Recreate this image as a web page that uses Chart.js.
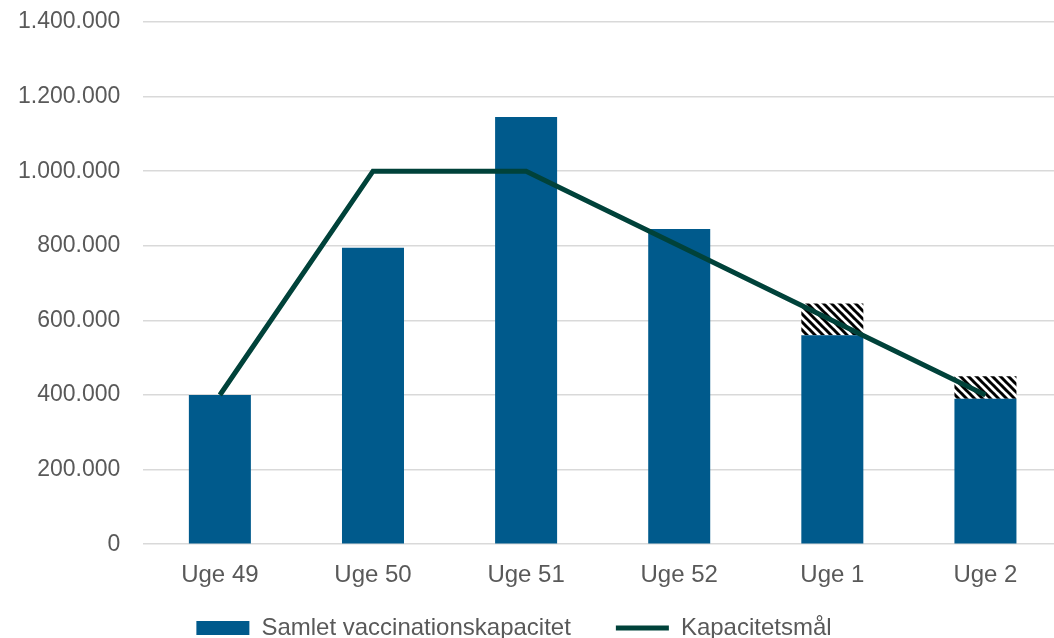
<!DOCTYPE html>
<html>
<head>
<meta charset="utf-8">
<script src="https://cdn.jsdelivr.net/npm/chart.js@4.4.0/dist/chart.umd.min.js"></script>
<style>
  html, body { margin: 0; padding: 0; background: #fff; overflow: hidden; }
  #outer { width: 1054px; height: 638px; overflow: hidden; position: relative; }
  #wrap { width: 1062px; height: 638px; position: absolute; left: 0; top: 0; }
</style>
</head>
<body>
<div id="outer"><div id="wrap"><canvas id="chart"></canvas></div></div>
<script>
const weeks = ['Uge 49', 'Uge 50', 'Uge 51', 'Uge 52', 'Uge 1', 'Uge 2'];
const capacity = [400000, 795000, 1145000, 845000, 560000, 390000];
const extraCapacity = [null, null, null, null, 85000, 60000];
const target = [400000, 1000000, 1000000, 800000, 600000, 400000];
const yTicks = [0, 200000, 400000, 600000, 800000, 1000000, 1200000, 1400000];

const BLUE = '#005a8c';
const GREEN = '#00423a';
const TEXT = '#595959';

// black/white diagonal hatch for the extra capacity
function hatch() {
  const c = document.createElement('canvas');
  c.width = 8; c.height = 8;
  const g = c.getContext('2d');
  g.fillStyle = '#fff';
  g.fillRect(0, 0, 8, 8);
  g.strokeStyle = '#000';
  g.lineWidth = 3;
  [-8, 0, 8].forEach(function (o) {
    g.beginPath();
    g.moveTo(o - 1, -1);
    g.lineTo(o + 9, 9);
    g.stroke();
  });
  return g.createPattern(c, 'repeat');
}

function fmt(v) {
  return String(v).replace(/\B(?=(\d{3})+(?!\d))/g, '.');
}

// legend box is kept short so the plot stays tall; open it upward/left
// before drawing (legend clips to its own box)
const legendNudge = {
  id: 'legendNudge',
  afterLayout: function (chart) {
    const lg = chart.legend;
    if (!lg) return;
    lg.top -= 36;
    lg.bottom = chart.height;
    lg.left -= 26;
    lg.right -= 26;
  }
};

const ctx = document.getElementById('chart').getContext('2d');
new Chart(ctx, {
  data: {
    labels: weeks,
    datasets: [
      {
        type: 'line',
        label: 'Kapacitetsmål',
        data: target,
        borderColor: GREEN,
        backgroundColor: GREEN,
        borderWidth: 5,
        pointRadius: 0,
        tension: 0,
        stack: 'line',
        order: 0
      },
      {
        type: 'bar',
        label: 'Samlet vaccinationskapacitet',
        data: capacity,
        backgroundColor: BLUE,
        stack: 'cap',
        order: 1,
        barPercentage: 0.405,
        categoryPercentage: 1
      },
      {
        type: 'bar',
        label: 'extra',
        data: extraCapacity,
        backgroundColor: hatch(),
        stack: 'cap',
        order: 1,
        barPercentage: 0.405,
        categoryPercentage: 1
      }
    ]
  },
  plugins: [legendNudge],
  options: {
    responsive: true,
    maintainAspectRatio: false,
    animation: false,
    layout: { padding: { top: 22, left: 18, right: 0, bottom: 0 } },
    scales: {
      x: {
        stacked: true,
        grid: { display: false, drawTicks: false },
        border: { display: false },
        ticks: { color: TEXT, font: { family: 'Liberation Sans', size: 24 }, padding: 17 }
      },
      y: {
        stacked: true,
        min: 0,
        max: 1400000,
        afterBuildTicks: function (axis) {
          axis.ticks = yTicks.map(function (v) { return { value: v }; });
        },
        grid: { color: '#d9d9d9', lineWidth: 1.5, drawTicks: true, tickLength: 23, tickColor: 'rgba(0,0,0,0)' },
        border: { display: false },
        ticks: {
          color: TEXT,
          font: { family: 'Liberation Sans', size: 23 },
          padding: 0,
          callback: function (v) { return fmt(v); }
        }
      }
    },
    plugins: {
      tooltip: { enabled: false },
      legend: {
        position: 'bottom',
        maxHeight: 31,
        labels: {
          color: TEXT,
          font: { family: 'Liberation Sans', size: 24 },
          usePointStyle: true,
          pointStyleWidth: 53,
          boxHeight: 14,
          padding: 45,
          generateLabels: function () {
            return [
              { text: 'Samlet vaccinationskapacitet', fillStyle: BLUE, strokeStyle: BLUE, lineWidth: 0, pointStyle: 'rect', fontColor: TEXT, datasetIndex: 1 },
              { text: 'Kapacitetsmål', fillStyle: GREEN, strokeStyle: GREEN, lineWidth: 5, pointStyle: 'line', fontColor: TEXT, datasetIndex: 0 }
            ];
          }
        }
      }
    }
  }
});
</script>
</body>
</html>
